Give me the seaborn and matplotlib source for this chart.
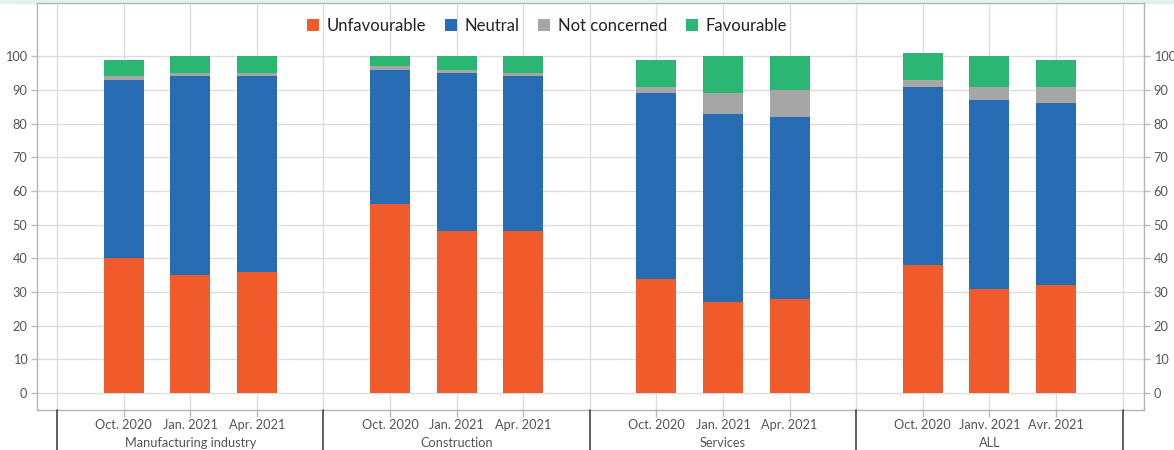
import numpy as np
import pandas as pd
import matplotlib
matplotlib.use("Agg")
import matplotlib.pyplot as plt
import matplotlib.transforms as mtransforms
from matplotlib.patches import Rectangle, Patch
import seaborn as sns

# ---------------- data ----------------
groups = ["Manufacturing industry", "Construction", "Services", "ALL"]
periods = [
    ["Oct. 2020", "Jan. 2021", "Apr. 2021"],
    ["Oct. 2020", "Jan. 2021", "Apr. 2021"],
    ["Oct. 2020", "Jan. 2021", "Apr. 2021"],
    ["Oct. 2020", "Janv. 2021", "Avr. 2021"],
]
unfavourable = [40, 35, 36, 56, 48, 48, 34, 27, 28, 38, 31, 32]
neutral = [53, 59, 58, 40, 47, 46, 55, 56, 54, 53, 56, 54]
not_concerned = [1, 1, 1, 1, 1, 1, 2, 6, 8, 2, 4, 5]
favourable = [5, 5, 5, 3, 4, 5, 8, 11, 10, 8, 9, 8]
series_names = ["Unfavourable", "Neutral", "Not concerned", "Favourable"]
y_ticks = list(range(0, 101, 10))

colors = ["#F15A2B", "#286CB4", "#A6A6A6", "#2BB673"]

# ---------------- layout helpers ----------------
n_per = 3
slot = n_per + 1
pos, labels = [], []
for gi, g in enumerate(groups):
    for j, p in enumerate(periods[gi]):
        pos.append(gi * slot + j + 1)
        labels.append(p)
boundaries = [gi * slot for gi in range(len(groups) + 1)]
centers = [gi * slot + (n_per + 1) / 2 for gi in range(len(groups))]

df = pd.DataFrame({"pos": pos})
s = np.array([unfavourable, neutral, not_concerned, favourable], dtype=float)
cum = np.cumsum(s, axis=0)
for k in range(4):
    df[f"c{k}"] = cum[k]

# ---------------- figure ----------------
sns.set_style("white")
plt.rcParams["font.family"] = ["Lato", "DejaVu Sans"]

fig = plt.figure(figsize=(11.74, 4.5), dpi=100)
W, H = 1174, 450
left, right, top, bottom = 37, 1144, 3, 410
ax = fig.add_axes([left / W, 1 - bottom / H, (right - left) / W, (bottom - top) / H])

for k in [3, 2, 1, 0]:
    sns.barplot(data=df, x="pos", y=f"c{k}", native_scale=True, color=colors[k],
                saturation=1, width=0.6, errorbar=None, ax=ax, zorder=3,
                linewidth=0)

ax.set_xlim(-0.3, 16.32)
ax.set_ylim(-5, 115.8)
ax.set_xlabel("")
ax.set_ylabel("")

ax.set_xticks(pos)
ax.set_xticklabels(labels)
ax.set_xticks(boundaries, minor=True)
ax.set_yticks(y_ticks)

grid_c = "#DDDDDD"
ax.grid(True, which="both", axis="x", color=grid_c, linewidth=1, zorder=0)
ax.grid(True, which="major", axis="y", color=grid_c, linewidth=1, zorder=0)
ax.set_axisbelow(True)

for sp in ax.spines.values():
    sp.set_visible(True)
    sp.set_color("#B4B4B4")
    sp.set_linewidth(1)

ax.tick_params(axis="x", which="major", length=5, width=1, color="#BBBBBB",
               labelsize=9.2, labelcolor="#555555", pad=1.5, direction="out", bottom=True)
ax.tick_params(axis="x", which="minor", length=0)
ax.tick_params(axis="y", which="major", length=4, width=1, color="#BBBBBB",
               labelsize=9.2, labelcolor="#555555", pad=3, direction="out",
               left=True, right=True, labelleft=True, labelright=True)

# group dividers and labels below the axis
trans = mtransforms.blended_transform_factory(ax.transData, ax.transAxes)
for b in boundaries:
    ax.plot([b, b], [0, -0.11], transform=trans, color="#444444", linewidth=1.2,
            clip_on=False, zorder=5)
for c, g in zip(centers, groups):
    ax.text(c, -0.081, g, transform=trans, ha="center", va="center",
            fontsize=9.2, color="#555555")

# legend
handles = [Patch(facecolor=colors[k], edgecolor="none", label=series_names[k]) for k in range(4)]
fig.legend(handles=handles, loc="center", bbox_to_anchor=(547 / W, 1 - 26 / H), ncol=4,
           frameon=False, fontsize=12, handlelength=0.72, handleheight=0.72,
           handletextpad=0.45, columnspacing=1.15, labelcolor="#222222")

# light top band
fig.add_artist(Rectangle((0, 1 - 3 / H), 1, 3 / H, transform=fig.transFigure,
                         color="#E2F2F2", zorder=0))

fig.savefig("out.png", dpi=100)
